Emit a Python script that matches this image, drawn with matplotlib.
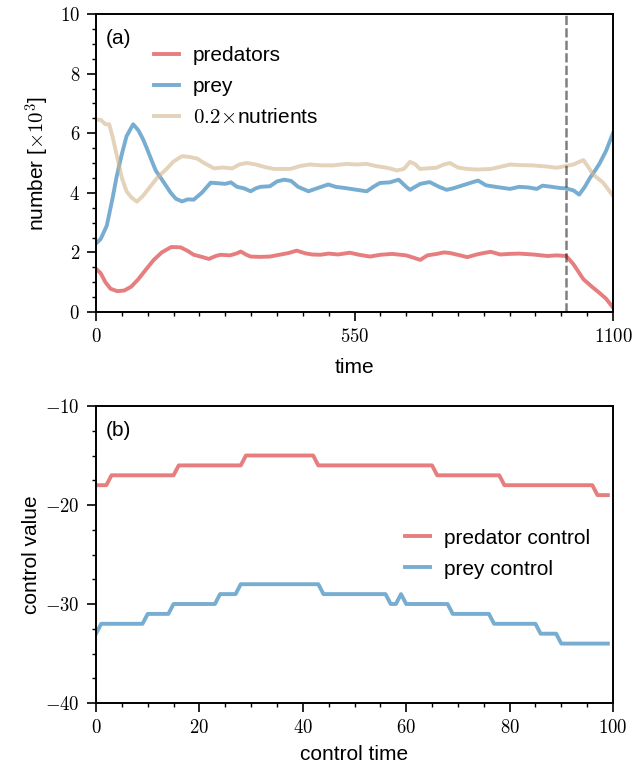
import matplotlib
matplotlib.use("Agg")
import matplotlib.pyplot as plt
from matplotlib.ticker import MultipleLocator, FixedLocator, FuncFormatter

plt.rcParams['font.family'] = ['Liberation Sans', 'DejaVu Sans']
plt.rcParams['mathtext.fontset'] = 'cm'

# ---- panel (a) data ----
pred_t = [0, 10, 20, 31, 45, 60, 75, 90, 105, 123, 140, 160, 180, 195, 208, 225, 240, 255, 265, 285,
          300, 308, 320, 329, 350, 370, 390, 410, 427, 445, 460, 477, 495, 515, 540, 560, 583, 605,
          630, 660, 680, 690, 705, 725, 740, 753, 775, 790, 810, 825, 840, 860, 880, 900, 930, 960,
          980, 1000, 1005, 1016, 1037, 1055, 1072, 1085, 1100]
pred_v = [1.45, 1.3, 1.0, 0.78, 0.7, 0.72, 0.85, 1.1, 1.4, 1.75, 2.0, 2.18, 2.17, 2.05, 1.92, 1.85,
          1.78, 1.88, 1.92, 1.9, 1.97, 2.03, 1.92, 1.86, 1.85, 1.86, 1.92, 1.98, 2.06, 1.97, 1.93,
          1.92, 1.96, 1.93, 1.99, 1.92, 1.86, 1.92, 1.95, 1.9, 1.8, 1.75, 1.9, 1.95, 2.0, 1.98, 1.9,
          1.84, 1.93, 1.98, 2.02, 1.93, 1.95, 1.96, 1.93, 1.88, 1.9, 1.88, 1.8, 1.6, 1.1, 0.85, 0.63,
          0.45, 0.15]

prey_t = [0, 10, 23, 35, 44, 55, 65, 79, 90, 100, 108, 118, 127, 140, 159, 170, 183, 195, 208, 225,
          244, 260, 275, 287, 300, 315, 329, 340, 350, 370, 385, 400, 415, 430, 452, 470, 494, 510,
          530, 555, 576, 590, 604, 625, 644, 660, 668, 690, 710, 730, 746, 760, 780, 800, 813, 830,
          850, 881, 900, 920, 938, 950, 970, 987, 1000, 1016, 1028, 1040, 1051, 1062, 1072, 1085, 1100]
prey_v = [2.3, 2.45, 2.9, 3.8, 4.55, 5.3, 5.9, 6.3, 6.1, 5.8, 5.5, 5.1, 4.75, 4.45, 4.0, 3.8, 3.71,
          3.78, 3.77, 4.0, 4.34, 4.32, 4.3, 4.35, 4.2, 4.15, 4.05, 4.15, 4.2, 4.22, 4.38, 4.44, 4.4,
          4.2, 4.05, 4.15, 4.28, 4.2, 4.16, 4.1, 4.05, 4.2, 4.33, 4.35, 4.44, 4.2, 4.1, 4.3, 4.36, 4.2,
          4.1, 4.15, 4.25, 4.35, 4.41, 4.25, 4.2, 4.13, 4.2, 4.18, 4.13, 4.24, 4.2, 4.16, 4.15, 4.08,
          3.94, 4.2, 4.5, 4.75, 5.0, 5.4, 6.0]

nutr_t = [0, 10, 20, 28, 35, 45, 55, 65, 75, 87, 100, 115, 130, 150, 165, 183, 200, 215, 230, 251,
          270, 290, 305, 321, 340, 360, 379, 400, 413, 435, 455, 480, 505, 533, 555, 576, 595, 611,
          625, 640, 655, 668, 680, 689, 705, 724, 740, 753, 770, 790, 811, 840, 860, 881, 900, 930,
          960, 980, 1000, 1016, 1037, 1048, 1058, 1079, 1100]
nutr_v = [6.45, 6.45, 6.3, 6.3, 5.9, 5.2, 4.5, 4.05, 3.85, 3.7, 3.9, 4.2, 4.5, 4.8, 5.05, 5.23, 5.2,
          5.15, 5.0, 4.82, 4.85, 4.82, 4.95, 5.0, 4.95, 4.86, 4.8, 4.8, 4.8, 4.9, 4.95, 4.92, 4.92,
          4.97, 4.95, 4.97, 4.9, 4.86, 4.82, 4.75, 4.8, 5.04, 4.95, 4.8, 4.82, 4.84, 4.95, 5.0, 4.85,
          4.8, 4.78, 4.8, 4.87, 4.95, 4.93, 4.92, 4.88, 4.84, 4.9, 4.95, 5.1, 4.85, 4.61, 4.34, 3.9]

control_start = 1000

# ---- panel (b) data ----
ctrl_t = list(range(100))
pred_ctrl = ([-18] * 3 + [-17] * 13 + [-16] * 13 + [-15] * 14 + [-16] * 23 + [-17] * 13 +
             [-18] * 18 + [-19] * 3)
prey_ctrl = ([-33] + [-32] * 9 + [-31] * 5 + [-30] * 9 + [-29] * 4 + [-28] * 16 + [-29] * 13 +
             [-30] * 2 + [-29] + [-30] * 9 + [-31] * 8 + [-32] * 9 + [-33] * 4 + [-34] * 10)

labels_a = ['predators', 'prey', r'$0.2\!\times\!$nutrients']
labels_b = ['predator control', 'prey control']

C_RED = 'tab:red'
C_BLUE = 'tab:blue'
C_TAN = 'tan'
ALPHA = 0.6
LW = 2.8
FS = 15
TFS = 13.5

fig = plt.figure(figsize=(6.34, 7.68), dpi=100)
ax1 = fig.add_axes([96 / 634, 1 - 312 / 768, 517 / 634, 298 / 768])
ax2 = fig.add_axes([96 / 634, 1 - 703 / 768, 517 / 634, 297 / 768])

mathfmt = FuncFormatter(lambda x, p: r'$%g$' % x)

ax1.plot(pred_t, pred_v, color=C_RED, alpha=ALPHA, lw=LW, label=labels_a[0])
ax1.plot(prey_t, prey_v, color=C_BLUE, alpha=ALPHA, lw=LW, label=labels_a[1])
ax1.plot(nutr_t, nutr_v, color=C_TAN, alpha=ALPHA, lw=LW, label=labels_a[2])
ax1.axvline(control_start, color='k', alpha=0.5, lw=1.8, ls=(0, (3.7, 1.3)))
ax1.set_xlim(0, 1100)
ax1.set_ylim(0, 10)
ax1.xaxis.set_major_locator(FixedLocator([0, 550, 1100]))
ax1.xaxis.set_minor_locator(MultipleLocator(55))
ax1.yaxis.set_major_locator(MultipleLocator(2))
ax1.yaxis.set_minor_locator(MultipleLocator(0.5))
ax1.set_xlabel('time', fontsize=FS, labelpad=9)
ax1.set_ylabel(r'number [$\times10^3$]', fontsize=FS, labelpad=6)
ax1.text(0.018, 0.95, '(a)', transform=ax1.transAxes, fontsize=FS, va='top', ha='left')
ax1.legend(loc='upper left', bbox_to_anchor=(0.112, 0.892), frameon=False, fontsize=FS,
           handlelength=1.2, handletextpad=0.67, labelspacing=0.57, borderpad=0, borderaxespad=0)

ax2.plot(ctrl_t, pred_ctrl, color=C_RED, alpha=ALPHA, lw=LW, label=labels_b[0])
ax2.plot(ctrl_t, prey_ctrl, color=C_BLUE, alpha=ALPHA, lw=LW, label=labels_b[1])
ax2.set_xlim(0, 100)
ax2.set_ylim(-40, -10)
ax2.xaxis.set_major_locator(MultipleLocator(20))
ax2.xaxis.set_minor_locator(MultipleLocator(5))
ax2.yaxis.set_major_locator(MultipleLocator(10))
ax2.yaxis.set_minor_locator(MultipleLocator(2.5))
ax2.set_xlabel('control time', fontsize=FS, labelpad=6)
ax2.set_ylabel('control value', fontsize=FS, labelpad=3)
ax2.text(0.018, 0.95, '(b)', transform=ax2.transAxes, fontsize=FS, va='top', ha='left')
ax2.legend(loc='upper left', bbox_to_anchor=(0.598, 0.587), frameon=False, fontsize=FS,
           handlelength=1.2, handletextpad=0.67, labelspacing=0.57, borderpad=0, borderaxespad=0)

for ax in (ax1, ax2):
    ax.xaxis.set_major_formatter(mathfmt)
    ax.yaxis.set_major_formatter(mathfmt)
    ax.tick_params(which='major', direction='out', length=6.5, width=1.2, labelsize=TFS, pad=5)
    ax.tick_params(which='minor', direction='out', length=3, width=1.0)
    for s in ax.spines.values():
        s.set_linewidth(1.4)

fig.savefig('out.png', dpi=100)
